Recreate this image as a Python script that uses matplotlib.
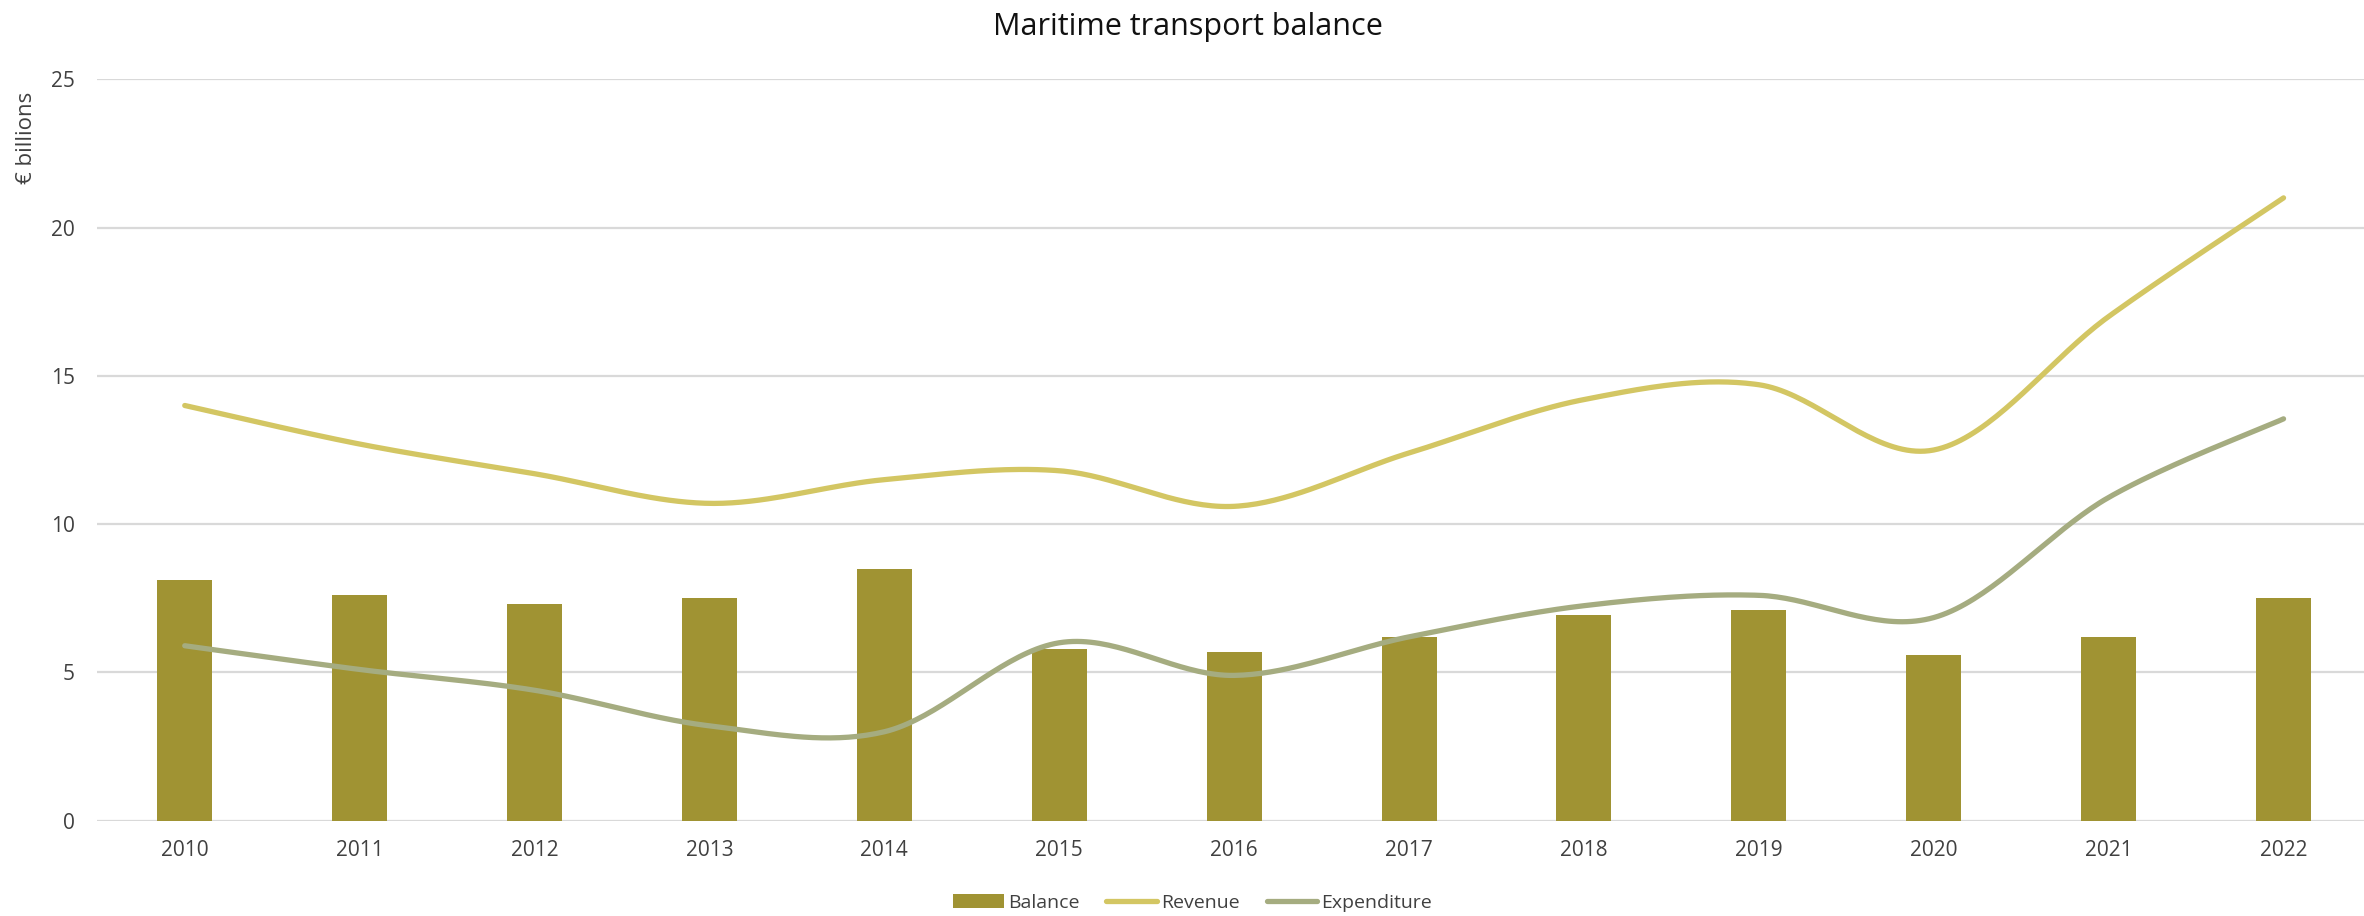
import numpy as np
import matplotlib
matplotlib.use("Agg")
import matplotlib.pyplot as plt
from matplotlib.patches import Patch
from matplotlib.lines import Line2D

plt.rcParams['font.family'] = ['Open Sans', 'DejaVu Sans']

# Maritime transport, € billions
years = ["2010", "2011", "2012", "2013", "2014", "2015", "2016",
         "2017", "2018", "2019", "2020", "2021", "2022"]
balance = [8.1, 7.6, 7.3, 7.5, 8.5, 5.8, 5.7, 6.2, 6.95, 7.1, 5.6, 6.2, 7.5]
revenue = [14.0, 12.7, 11.7, 10.7, 11.5, 11.8, 10.6, 12.4, 14.2, 14.7, 12.5, 17.0, 21.0]
expenditure = [5.9, 5.1, 4.4, 3.2, 3.0, 6.0, 4.9, 6.2, 7.25, 7.6, 6.85, 10.9, 13.55]
y_ticks = [0, 5, 10, 15, 20, 25]

BAR_COLOR = "#A09333"
REV_COLOR = "#D3C663"
EXP_COLOR = "#A5AC80"
GRID_COLOR = "#D9D9D9"
TEXT_COLOR = "#404040"


def smooth(xs, ys, n=40):
    """Catmull-Rom style cubic Bezier smoothing through every point."""
    xs = np.asarray(xs, float)
    ys = np.asarray(ys, float)
    px = np.concatenate([[xs[0]], xs, [xs[-1]]])
    py = np.concatenate([[ys[0]], ys, [ys[-1]]])
    out_x, out_y = [], []
    t = np.linspace(0, 1, n)
    for i in range(1, len(px) - 2):
        p0 = np.array([px[i], py[i]])
        p3 = np.array([px[i + 1], py[i + 1]])
        c1 = p0 + (p3 - np.array([px[i - 1], py[i - 1]])) / 6.0
        c2 = p3 - (np.array([px[i + 2], py[i + 2]]) - p0) / 6.0
        b = ((1 - t) ** 3)[:, None] * p0 + (3 * (1 - t) ** 2 * t)[:, None] * c1 \
            + (3 * (1 - t) * t ** 2)[:, None] * c2 + (t ** 3)[:, None] * p3
        if i > 1:
            b = b[1:]
        out_x.extend(b[:, 0])
        out_y.extend(b[:, 1])
    return np.array(out_x), np.array(out_y)


fig = plt.figure(figsize=(23.64, 9.16), dpi=100)
ax = fig.add_axes([0.04116, 0.1040, 0.9618, 0.8095])

x = np.arange(len(years))
ax.bar(x, balance, width=0.314, color=BAR_COLOR, zorder=2)

rx, ry = smooth(x, revenue)
ax.plot(rx, ry, color=REV_COLOR, lw=3.8, solid_capstyle='round', zorder=3)
ex, ey = smooth(x, expenditure)
ax.plot(ex, ey, color=EXP_COLOR, lw=3.8, solid_capstyle='round', zorder=3)

ax.set_xlim(-0.5, len(years) - 0.5)
ax.set_ylim(0, 25)
ax.set_yticks(y_ticks)
ax.set_xticks(x)
ax.set_xticklabels(years)
ax.yaxis.grid(True, color=GRID_COLOR, lw=1.6, zorder=0)
ax.set_axisbelow(True)
for s in ax.spines.values():
    s.set_visible(False)
ax.tick_params(axis='both', length=0, labelsize=15, colors=TEXT_COLOR)
ax.tick_params(axis='x', pad=14)
ax.tick_params(axis='y', pad=16)

fig.text(0.0114, 0.849, "€ billions", rotation=90, ha='center', va='center',
         fontsize=16, color=TEXT_COLOR)
fig.text(0.5025, 0.9705, "Maritime transport balance", ha='center', va='center',
         fontsize=22, color='#111111')

handles = [
    Patch(facecolor=BAR_COLOR, edgecolor='none', label="Balance"),
    Line2D([0], [0], color=REV_COLOR, lw=3.8, solid_capstyle='round', label="Revenue"),
    Line2D([0], [0], color=EXP_COLOR, lw=3.8, solid_capstyle='round', label="Expenditure"),
]
leg = fig.legend(handles=handles, loc='center', bbox_to_anchor=(0.5045, 0.0142),
                 ncol=3, frameon=False, fontsize=14, handlelength=2.6,
                 handleheight=0.7, handletextpad=0.2, columnspacing=1.4,
                 borderpad=0)
for t in leg.get_texts():
    t.set_color(TEXT_COLOR)

fig.savefig("out.png", dpi=100)
